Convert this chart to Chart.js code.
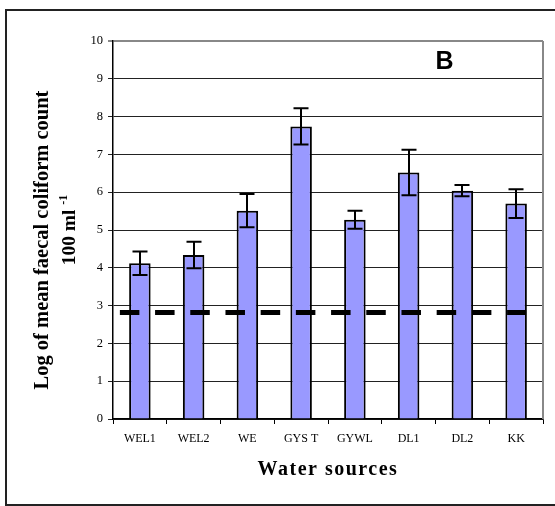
<!DOCTYPE html>
<html>
<head>
<meta charset="utf-8">
<script src="https://cdn.jsdelivr.net/npm/chart.js@4/dist/chart.umd.min.js"></script>
<style>
  html, body { margin: 0; padding: 0; background: #fff; }
  #wrap { width: 555px; height: 506px; position: relative; }
</style>
</head>
<body>
<div id="wrap"><canvas id="c" width="555" height="506"></canvas></div>
<script>
const categories = ['WEL1', 'WEL2', 'WE', 'GYS T', 'GYWL', 'DL1', 'DL2', 'KK'];
const meanLog = [4.12, 4.34, 5.51, 7.74, 5.27, 6.52, 6.04, 5.70];
const errorLog = [0.31, 0.35, 0.44, 0.48, 0.24, 0.60, 0.15, 0.38];
const thresholdLog = 2.82;
const yTicks = [0, 1, 2, 3, 4, 5, 6, 7, 8, 9, 10];
const panelLabel = 'B';
const yTitleLine1 = 'Log of mean faecal coliform count';
const yTitleLine2 = '100 ml';
const yTitleSup = '-1';
const xTitle = 'Water sources';

const SERIF = '"Liberation Serif", "Times New Roman", serif';
const SANS = '"Liberation Sans", Arial, sans-serif';

const decor = {
  id: 'decor',
  beforeDraw(chart) {
    const ctx = chart.ctx;
    ctx.save();
    ctx.fillStyle = '#fff';
    ctx.fillRect(0, 0, chart.width, chart.height);
    ctx.strokeStyle = '#222';
    ctx.lineWidth = 2;
    ctx.strokeRect(6, 10, 560, 495);
    ctx.restore();
  },
  afterDatasetsDraw(chart) {
    const ctx = chart.ctx;
    const x = chart.scales.x, y = chart.scales.y;
    const area = chart.chartArea;
    ctx.save();
    // right border of plot
    ctx.strokeStyle = '#888';
    ctx.lineWidth = 2;
    ctx.beginPath();
    ctx.moveTo(area.right, area.top);
    ctx.lineTo(area.right, area.bottom);
    ctx.stroke();
    // threshold dashed line
    const ty = y.getPixelForValue(thresholdLog);
    ctx.strokeStyle = '#000';
    ctx.lineWidth = 5;
    ctx.setLineDash([19.5, 15.7]);
    ctx.beginPath();
    ctx.moveTo(x.getPixelForValue(0) - 20, ty);
    ctx.lineTo(x.getPixelForValue(categories.length - 1) + 10, ty);
    ctx.stroke();
    ctx.setLineDash([]);
    // error bars
    ctx.lineWidth = 2;
    meanLog.forEach((v, i) => {
      const cx = Math.round(x.getPixelForValue(i));
      const yt = y.getPixelForValue(v + errorLog[i]);
      const yb = y.getPixelForValue(v - errorLog[i]);
      ctx.beginPath();
      ctx.moveTo(cx, yt); ctx.lineTo(cx, yb);
      ctx.moveTo(cx - 7.5, yt); ctx.lineTo(cx + 7.5, yt);
      ctx.moveTo(cx - 7.5, yb); ctx.lineTo(cx + 7.5, yb);
      ctx.stroke();
    });
    // panel label
    ctx.fillStyle = '#000';
    ctx.font = 'bold 25px ' + SANS;
    ctx.textAlign = 'center';
    ctx.textBaseline = 'middle';
    ctx.fillText(panelLabel, 444.5, 62);
    // x title
    ctx.font = 'bold 20px ' + SERIF;
    ctx.letterSpacing = '1.5px';
    ctx.fillText(xTitle, (area.left + area.right) / 2, 470);
    ctx.letterSpacing = '0px';
    // y title
    ctx.save();
    ctx.translate(43, 240);
    ctx.rotate(-Math.PI / 2);
    ctx.font = 'bold 20.5px ' + SERIF;
    ctx.textAlign = 'center';
    ctx.fillText(yTitleLine1, 0, 0);
    ctx.restore();
    ctx.save();
    ctx.translate(70, 230);
    ctx.rotate(-Math.PI / 2);
    ctx.font = 'bold 19.5px ' + SERIF;
    const w1 = ctx.measureText(yTitleLine2 + ' ').width;
    ctx.font = 'bold 12px ' + SERIF;
    const w2 = ctx.measureText(yTitleSup).width;
    const start = -(w1 + w2) / 2;
    ctx.textAlign = 'left';
    ctx.font = 'bold 19.5px ' + SERIF;
    ctx.fillText(yTitleLine2 + ' ', start, 0);
    ctx.font = 'bold 12px ' + SERIF;
    ctx.fillText(yTitleSup, start + w1, -6);
    ctx.restore();
    ctx.restore();
  }
};

new Chart(document.getElementById('c'), {
  type: 'bar',
  data: {
    labels: categories,
    datasets: [{
      data: meanLog,
      backgroundColor: '#9999FF',
      borderColor: '#000',
      borderWidth: 2,
      categoryPercentage: 1.0,
      barPercentage: 0.4
    }]
  },
  options: {
    responsive: false,
    animation: false,
    devicePixelRatio: 1,
    layout: { padding: { left: 0, top: 41, right: 12, bottom: 0 } },
    plugins: { legend: { display: false }, tooltip: { enabled: false } },
    scales: {
      x: {
        offset: true,
        grid: {
          offset: true,
          drawOnChartArea: false,
          drawTicks: true,
          tickLength: 5,
          color: '#000',
          lineWidth: 1
        },
        border: { display: true, color: '#000', width: 1.5 },
        ticks: {
          color: '#000',
          font: { family: SERIF, size: 12 },
          padding: 8,
          maxRotation: 0,
          autoSkip: false
        },
        afterFit(s) { s.height = 87; }
      },
      y: {
        min: 0,
        max: 10,
        afterBuildTicks(s) { s.ticks = yTicks.map(v => ({ value: v })); },
        grid: {
          color: ctx => (ctx.tick && ctx.tick.value === 10 ? '#888' : '#222'),
          lineWidth: ctx => (ctx.tick && ctx.tick.value === 10 ? 2 : 1),
          drawTicks: true,
          tickLength: 5
        },
        border: { display: true, color: '#000', width: 1.5 },
        ticks: {
          color: '#000',
          font: { family: SERIF, size: 12.5 },
          padding: 5
        },
        afterFit(s) { s.width = 113; }
      }
    }
  },
  plugins: [decor]
});
</script>
</body>
</html>
